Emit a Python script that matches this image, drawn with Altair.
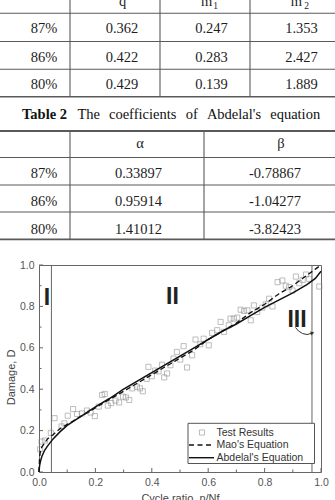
import altair as alt
import pandas as pd

# ------------------------------------------------------------------ data
LOAD_LEVELS = ["87%", "86%", "80%"]
MAO_Q = [0.362, 0.422, 0.429]
MAO_M1 = [0.247, 0.283, 0.139]
MAO_M2 = [1.353, 2.427, 1.889]
ABD_ALPHA = [0.33897, 0.95914, 1.41012]
ABD_BETA = [-0.78867, -1.04277, -3.82423]
TABLE1_HEAD = ["q", "m", "m"]
TABLE1_SUB = ["1", "2"]
TABLE2_HEAD = ["α", "β"]
CAPTION_BOLD = "Table 2"
CAPTION_WORDS = ["The", "coefficients", "of", "Abdelal's", "equation"]

TEST_X = [0.004, 0.009, 0.021, 0.042, 0.055, 0.080, 0.090, 0.102, 0.121, 0.135,
          0.152, 0.170, 0.183, 0.198, 0.212, 0.224, 0.233, 0.244, 0.256, 0.271,
          0.284, 0.298, 0.308, 0.320, 0.331, 0.347, 0.358, 0.368, 0.382, 0.388,
          0.400, 0.412, 0.424, 0.436, 0.444, 0.454, 0.466, 0.477, 0.489, 0.501,
          0.513, 0.525, 0.543, 0.555, 0.572, 0.584, 0.602, 0.614, 0.632, 0.644,
          0.656, 0.673, 0.679, 0.691, 0.703, 0.715, 0.727, 0.739, 0.751, 0.762,
          0.774, 0.792, 0.804, 0.816, 0.828, 0.846, 0.863, 0.875, 0.887, 0.899,
          0.911, 0.923, 0.935, 0.947, 0.958, 0.994]
TEST_D = [0.110, 0.147, 0.152, 0.189, 0.260, 0.220, 0.235, 0.272, 0.304, 0.280,
          0.283, 0.297, 0.287, 0.270, 0.316, 0.372, 0.377, 0.321, 0.333, 0.345,
          0.336, 0.364, 0.360, 0.348, 0.404, 0.412, 0.404, 0.390, 0.450, 0.508,
          0.463, 0.490, 0.486, 0.518, 0.457, 0.476, 0.516, 0.548, 0.580, 0.543,
          0.608, 0.505, 0.564, 0.640, 0.617, 0.644, 0.612, 0.672, 0.685, 0.725,
          0.677, 0.709, 0.741, 0.741, 0.746, 0.784, 0.778, 0.781, 0.733, 0.805,
          0.773, 0.794, 0.810, 0.837, 0.800, 0.917, 0.925, 0.900, 0.893, 0.877,
          0.944, 0.912, 0.928, 0.954, 0.933, 0.896]

CURVE_R = [0, 0.002, 0.005, 0.01, 0.02, 0.03, 0.05, 0.075, 0.1, 0.15, 0.2, 0.25,
           0.3, 0.35, 0.4, 0.45, 0.5, 0.55, 0.6, 0.65, 0.7, 0.75, 0.8, 0.85, 0.9,
           0.95, 0.98, 1.0]
MAO_D = [0, 0.07, 0.10, 0.12, 0.14, 0.16, 0.18, 0.21, 0.23, 0.27, 0.31, 0.35,
         0.39, 0.43, 0.47, 0.51, 0.55, 0.59, 0.64, 0.68, 0.72, 0.77, 0.81, 0.86,
         0.90, 0.95, 0.98, 1.00]
ABD_D = [0, 0.03, 0.05, 0.075, 0.105, 0.125, 0.16, 0.195, 0.225, 0.27, 0.315,
         0.355, 0.40, 0.44, 0.48, 0.52, 0.56, 0.60, 0.64, 0.68, 0.715, 0.755,
         0.795, 0.83, 0.865, 0.905, 0.935, 0.97]

X_MAJOR = [0, 0.2, 0.4, 0.6, 0.8, 1.0]
X_MINOR = [0.1, 0.3, 0.5, 0.7, 0.9]
Y_MAJOR = [0, 0.2, 0.4, 0.6, 0.8, 1.0]
Y_MINOR = [0.1, 0.3, 0.5, 0.7, 0.9]
REGION_BOUNDS = [0.044, 0.968]
REGION_LABELS = ["I", "II", "III"]
LEGEND_LABELS = ["Test Results", "Mao's Equation", "Abdelal's Equation"]

# ------------------------------------------------------------------ layout
PAGE_W, PAGE_H = 335, 500
L, T, W, H = 39, 265, 282, 207
R, B = PAGE_W - L - W, PAGE_H - T - H

SERIF = "Liberation Serif"
SANS = "Liberation Sans"

px = alt.Scale(domain=[0, PAGE_W], range=[-L, PAGE_W - L], nice=False, zero=False)
py = alt.Scale(domain=[0, PAGE_H], range=[-T, PAGE_H - T], nice=False, zero=False)
xs = alt.Scale(domain=[0, 1], nice=False)
ys = alt.Scale(domain=[0, 1], nice=False)


def page_text(df, **style):
    return alt.Chart(df).mark_text(**style).encode(
        x=alt.X("x:Q", scale=px, axis=None),
        y=alt.Y("y:Q", scale=py, axis=None),
        text="t:N",
    )


def page_rules(df, color):
    return alt.Chart(df).mark_rule(color=color).encode(
        x=alt.X("x1:Q", scale=px, axis=None),
        x2="x2:Q",
        y=alt.Y("y1:Q", scale=py, axis=None),
        y2="y2:Q",
        strokeWidth=alt.StrokeWidth("w:Q", scale=None),
    )


# ---- table 1 (Mao coefficients)
T1_COL_X = [44, 122, 211.5, 301.5]
T1_ROW_Y = [33.3, 61.5, 89.3]
T1_HEAD_X = [122.5, 206.7, 296.5]
T1_HEAD_Y = 5.5
T1_SUB_X = [215.5, 306.5]
T1_SUB_Y = 9
T1_HLINES = [(13.3, 1.1), (41.5, 1.1), (69.3, 1.1), (96.7, 1.6)]
T1_VLINES = [70, 160, 250]
T1_TOP, T1_BOTTOM = -5, 96.7

# ---- table 2 (Abdelal coefficients)
CAP_BOLD_X, CAP_Y = 22, 119.3
CAP_WORD_X = [77.4, 109, 185.7, 206.9, 270.2]
T2_COL_X = [44, 138.5, 275]
T2_ROW_Y = [178, 206, 234]
T2_HEAD_X = [140, 281]
T2_HEAD_Y = 148
T2_HLINES = [(131, 1.8), (157.5, 1.1), (185, 1.1), (212, 1.1), (239.3, 1.8)]
T2_VLINES = [70, 204]
T2_TOP, T2_BOTTOM = 131, 239.3

cells1 = []
for i, lvl in enumerate(LOAD_LEVELS):
    vals = [lvl, f"{MAO_Q[i]:.3f}", f"{MAO_M1[i]:.3f}", f"{MAO_M2[i]:.3f}"]
    for j, v in enumerate(vals):
        cells1.append({"x": T1_COL_X[j], "y": T1_ROW_Y[i], "t": v})
for j, h in enumerate(TABLE1_HEAD):
    cells1.append({"x": T1_HEAD_X[j], "y": T1_HEAD_Y, "t": h})
subs1 = pd.DataFrame({"x": T1_SUB_X, "y": [T1_SUB_Y] * 2, "t": TABLE1_SUB})

cells2 = []
for i, lvl in enumerate(LOAD_LEVELS):
    vals = [lvl, f"{ABD_ALPHA[i]:.5f}", f"{ABD_BETA[i]:.5f}"]
    for j, v in enumerate(vals):
        cells2.append({"x": T2_COL_X[j], "y": T2_ROW_Y[i], "t": v})
for j, h in enumerate(TABLE2_HEAD):
    cells2.append({"x": T2_HEAD_X[j], "y": T2_HEAD_Y, "t": h})

lines = []
for y, w in T1_HLINES + T2_HLINES:
    lines.append({"x1": 0, "x2": PAGE_W, "y1": y, "y2": y, "w": w})
for x in T1_VLINES:
    lines.append({"x1": x, "x2": x, "y1": T1_TOP, "y2": T1_BOTTOM, "w": 1.1})
for x in T2_VLINES:
    lines.append({"x1": x, "x2": x, "y1": T2_TOP, "y2": T2_BOTTOM, "w": 1.1})

TABLE_TXT = dict(font=SERIF, fontSize=14.5, color="#1e1e1e", align="center",
                 baseline="alphabetic")

tables = [
    page_rules(pd.DataFrame(lines), "#5a5a5a"),
    page_text(pd.DataFrame(cells1), **TABLE_TXT),
    page_text(subs1, font=SERIF, fontSize=9.5, color="#1e1e1e", align="center",
              baseline="alphabetic"),
    page_text(pd.DataFrame(cells2), **TABLE_TXT),
    page_text(pd.DataFrame({"x": [CAP_BOLD_X], "y": [CAP_Y], "t": [CAPTION_BOLD]}),
              font=SERIF, fontSize=14.5, fontWeight="bold", color="#111",
              align="left", baseline="alphabetic"),
    page_text(pd.DataFrame({"x": CAP_WORD_X, "y": [CAP_Y] * 5, "t": CAPTION_WORDS}),
              font=SERIF, fontSize=14.5, color="#111", align="left",
              baseline="alphabetic"),
]

# ------------------------------------------------------------------ chart
FRAME = "#666666"
AX_TXT = "#555555"

x_axis = alt.Axis(values=X_MAJOR, format=".1f", ticks=False, domain=False,
                  grid=False, labelPadding=5, labelFont=SANS, labelFontSize=10.5,
                  labelColor=AX_TXT, labelFlush=False, labelOverlap=False,
                  title="Cycle ratio, n/Nf", titleFont=SANS, titleFontSize=11,
                  titleFontWeight="normal", titleColor="#444", titlePadding=5)
y_axis = alt.Axis(values=Y_MAJOR, format=".1f", ticks=False, domain=False,
                  grid=False, labelPadding=5, labelFont=SANS, labelFontSize=10.5,
                  labelColor=AX_TXT, labelFlush=False, labelOverlap=False,
                  title="Damage, D", titleFont=SANS, titleFontSize=11,
                  titleFontWeight="normal", titleColor="#444", titlePadding=3,
                  titleY=112)

test_df = pd.DataFrame({"r": TEST_X, "D": TEST_D})
curve_df = pd.DataFrame({"r": CURVE_R, "mao": MAO_D, "abd": ABD_D})

points = alt.Chart(test_df).mark_point(shape="square", size=26, filled=False,
                                       color="#8a8a8a", strokeWidth=0.8).encode(
    x=alt.X("r:Q", scale=xs, axis=x_axis),
    y=alt.Y("D:Q", scale=ys, axis=y_axis),
)

mao = alt.Chart(curve_df).mark_line(color="#111", strokeWidth=1.3,
                                    strokeDash=[5, 3]).encode(
    x=alt.X("r:Q", scale=xs, axis=None),
    y=alt.Y("mao:Q", scale=ys, axis=None),
    order="r:Q",
)
abd = alt.Chart(curve_df).mark_line(color="#111", strokeWidth=1.5).encode(
    x=alt.X("r:Q", scale=xs, axis=None),
    y=alt.Y("abd:Q", scale=ys, axis=None),
    order="r:Q",
)

region_lines = alt.Chart(pd.DataFrame({"v": REGION_BOUNDS})).mark_rule(
    color=FRAME, strokeWidth=1).encode(
    x=alt.X("v:Q", scale=xs, axis=None), y=alt.value(0), y2=alt.value(H))


def xticks(vals, length):
    return alt.Chart(pd.DataFrame({"v": vals})).mark_rule(
        color=FRAME, strokeWidth=1).encode(
        x=alt.X("v:Q", scale=xs, axis=None), y=alt.value(H), y2=alt.value(H - length))


def yticks(vals, length):
    return alt.Chart(pd.DataFrame({"v": vals})).mark_rule(
        color=FRAME, strokeWidth=1).encode(
        y=alt.Y("v:Q", scale=ys, axis=None), x=alt.value(0), x2=alt.value(length))


ticks = [xticks(X_MAJOR, 4), xticks(X_MINOR, 2.5), yticks(Y_MAJOR, 4),
         yticks(Y_MINOR, 2.5)]

# region numerals and arrow (page coordinates)
NUM_X = [47, 172.5, 297]
NUM_Y = [305, 303.5, 326.7]
numerals = page_text(pd.DataFrame({"x": NUM_X, "y": NUM_Y, "t": REGION_LABELS}),
                     font=SANS, fontSize=23, fontWeight="bold", color="#222",
                     align="center", baseline="alphabetic")

ARROW_PATH = pd.DataFrame({"x": [295.5, 298.5, 302.5, 307, 311],
                           "y": [327.5, 331, 333.5, 334.5, 333.5],
                           "o": [0, 1, 2, 3, 4]})
arrow = alt.Chart(ARROW_PATH).mark_line(color="#333", strokeWidth=1).encode(
    x=alt.X("x:Q", scale=px, axis=None), y=alt.Y("y:Q", scale=py, axis=None),
    order="o:Q")
arrow_head = alt.Chart(pd.DataFrame({"x": [312.5], "y": [333]})).mark_point(
    shape="triangle-right", size=18, filled=True, color="#333", angle=345,
    opacity=1).encode(
    x=alt.X("x:Q", scale=px, axis=None), y=alt.Y("y:Q", scale=py, axis=None))

# legend (page coordinates)
LEG_BOX = pd.DataFrame({"x1": [188], "x2": [314.5], "y1": [423.3], "y2": [463.5]})
LEG_ROW_Y = [432.5, 445, 457.7]
LEG_TEXT_X = 216.5
LEG_LINE_X = (189, 214)
LEG_SYM_X = 202

leg_box = alt.Chart(LEG_BOX).mark_rect(fill="white", stroke="#555",
                                       strokeWidth=1).encode(
    x=alt.X("x1:Q", scale=px, axis=None), x2="x2:Q",
    y=alt.Y("y1:Q", scale=py, axis=None), y2="y2:Q")
leg_text = page_text(pd.DataFrame({"x": [LEG_TEXT_X] * 3, "y": LEG_ROW_Y,
                                   "t": LEGEND_LABELS}),
                     font=SANS, fontSize=10.5, color="#333", align="left",
                     baseline="middle")
leg_sym = alt.Chart(pd.DataFrame({"x": [LEG_SYM_X], "y": [LEG_ROW_Y[0]]})).mark_point(
    shape="square", size=26, filled=False, color="#8a8a8a", strokeWidth=0.8).encode(
    x=alt.X("x:Q", scale=px, axis=None), y=alt.Y("y:Q", scale=py, axis=None))


def leg_line(y, dash):
    df = pd.DataFrame({"x1": [LEG_LINE_X[0]], "x2": [LEG_LINE_X[1]], "y1": [y]})
    kw = dict(color="#111", strokeWidth=1.4)
    if dash:
        kw["strokeDash"] = dash
    return alt.Chart(df).mark_rule(**kw).encode(
        x=alt.X("x1:Q", scale=px, axis=None), x2="x2:Q",
        y=alt.Y("y1:Q", scale=py, axis=None))


legend = [leg_box, leg_sym, leg_line(LEG_ROW_Y[1], [5, 3.5]),
          leg_line(LEG_ROW_Y[2], None), leg_text]

chart = alt.layer(
    *tables, region_lines, *ticks, points, mao, abd, numerals, arrow, arrow_head,
    *legend,
).resolve_scale(x="independent", y="independent").properties(
    width=W, height=H,
    padding={"left": L, "top": T, "right": R, "bottom": B},
    autosize=alt.AutoSizeParams(type="none"),
    background="white",
).configure_view(stroke=FRAME, strokeWidth=1)

chart.save("out.html", embed_options={"renderer": "svg", "actions": False})
